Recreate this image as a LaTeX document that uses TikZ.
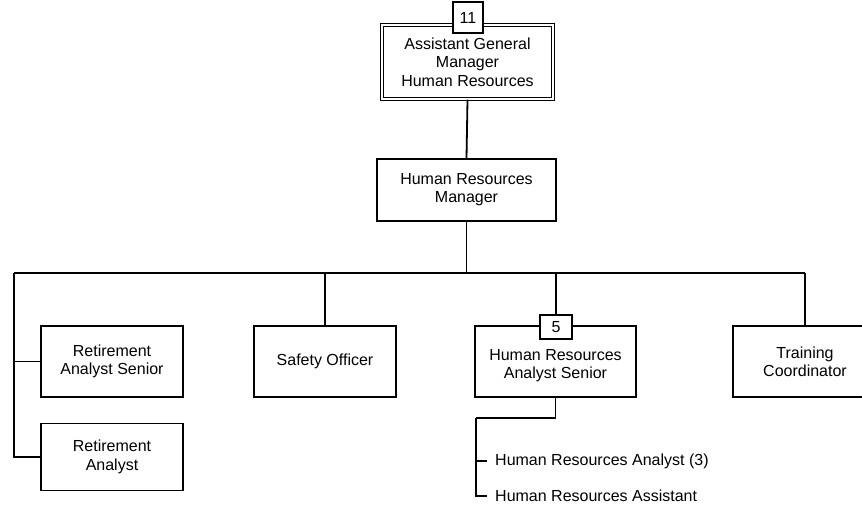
\documentclass[tikz,border=0pt]{standalone}
\usepackage{fontspec}
\setmainfont{Liberation Sans}
\usepackage{tikz}
\tikzset{
  font={\fontsize{16pt}{18.3pt}\selectfont}}

\begin{document}
\begin{tikzpicture}[x=1pt,y=-1pt]
\tikzstyle{every node}+=[inner sep=0pt]
\tikzstyle{post}=[draw=black, line width=1.2pt, fill=white, align=center]
\tikzstyle{count}=[draw=black, line width=1.2pt, fill=white]
\tikzstyle{link}=[draw=black, line width=1.3pt]
\clip (0,0) rectangle (862,513);
% top of the chart
\node [post, double, double distance=2pt, minimum width=171, minimum height=74] (agm) at (467.5,62) {Assistant General\\Manager\\Human Resources};
\node [count, minimum width=30, minimum height=31] (n11) at (468,17.5) {11};
\node [post, minimum width=179, minimum height=62] (hrm) at (466.5,190) {Human Resources\\Manager};
\draw [link, line width=1.8pt] (agm.south) -- (hrm.north);
% bus
\coordinate (busL) at (14,273);
\coordinate (busR) at (805,273);
\draw [link, line width=1.6pt] (hrm.south) -- (hrm.south |- busL);
\draw [link] (busL) -- (busR);
% boxes under the bus
\node [post, minimum width=142, minimum height=71] (ras) at (112,361.5) {Retirement\\Analyst Senior};
\node [post, minimum width=142, minimum height=67] (ra) at (112,457) {Retirement\\Analyst};
\node [post, minimum width=142, minimum height=71] (so) at (325,361.5) {Safety Officer};
\node [post, minimum width=161, minimum height=71] (hras) at (555.5,361.5) {};
\node [align=center] (hrastext) at ([yshift=-4pt]hras.center) {Human Resources\\Analyst Senior};
\node [count, minimum width=32, minimum height=24] (n5) at (556,327) {5};
\node [post, minimum width=144, minimum height=71] (tc) at (805,361.5) {Training\\Coordinator};
\draw [link] (busL) |- (ras.west);
\draw [link] (busL) |- (ra.west);
\draw [link] (so.north |- busL) -- (so.north);
\draw [link] (n5.north |- busL) -- (n5.north);
\draw [link] (busR) -- (tc.north);
% staff list
\coordinate (lst) at (476,418);
\node [anchor=west] (hra) at (495,461) {Human Resources Analyst (3)};
\node [anchor=west] (hrasst) at (495,496) {Human Resources Assistant};
\draw [link, line width=1.8pt] (hras.south) -- (hras.south |- lst) -- (lst);
\draw [link] (lst) |- ([xshift=-8pt]hrasst.west);
\draw [link] (lst |- hra.west) -- ([xshift=-8pt]hra.west);
\end{tikzpicture}
\end{document}
